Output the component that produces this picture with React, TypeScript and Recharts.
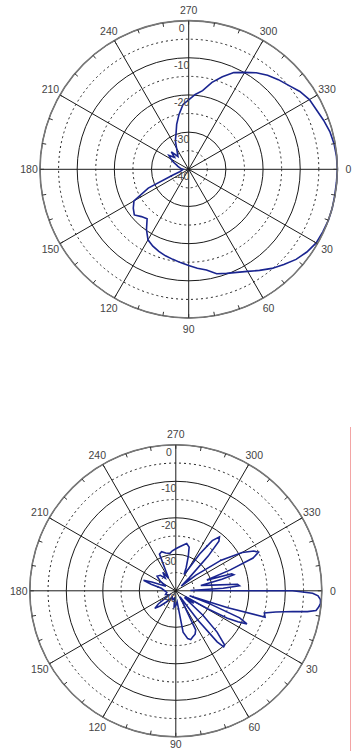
import { RadarChart, Radar, PolarGrid, PolarAngleAxis, PolarRadiusAxis } from 'recharts';

// upper pattern: angle (deg, clockwise from right) and gain (dB)
const topAngles = [
  0, 5, 10, 15, 20, 25, 30, 35, 40, 45, 50, 55, 60, 65, 70, 75, 80, 85, 90, 95, 100, 105, 110, 115,
  120, 125, 130, 135, 140, 145, 150, 155, 160, 165, 170, 175, 180, 185, 190, 195, 200, 205, 210, 215,
  220, 225, 230, 235, 240, 245, 250, 255, 260, 265, 270, 275, 280, 285, 290, 295, 300, 305, 310, 315,
  320, 325, 330, 335, 340, 345, 350, 355,
];
const topGain = [
  0, -0.1, -0.1, 0, 0, -0.2, -0.4, -1.2, -2.3, -3.8, -5.2, -6.8, -8.3, -9.4, -10.2, -10.9, -12.5, -13.3,
  -14.1, -14.8, -15.4, -15.9, -16.5, -17.2, -18.1, -20.2, -22.6, -22, -20.9, -21.8, -23, -28, -35.5, -37.5,
  -38, -38.3, -38.5, -38, -37.5, -37, -36.5, -35.5, -34.5, -33.5, -35, -33.4, -35.5, -34.7, -33.5, -31.5,
  -30, -27.5, -25, -22.5, -21.3, -19.8, -18.5, -15.8, -13.5, -11.3, -9.9, -8.3, -7, -5.9, -4.9, -3.5,
  -2.5, -2.1, -1.4, -0.7, -0.3, -0.1,
];

// lower pattern
const bottomAngles = [
  0, 1, 2, 3.5, 5, 6.5, 8, 9, 10, 12, 14, 16.5, 18, 19.5, 21, 23, 25, 26.5, 28, 29.5, 31, 35, 38, 42,
  45, 48, 49.5, 51, 53, 55, 60, 63, 66, 70, 73, 76, 80, 83, 90, 96, 100, 110, 120, 130, 136, 140, 143,
  148, 160, 170, 180, 190, 195, 198, 200, 205, 212, 218, 225, 230, 235, 240, 244, 246, 250, 255, 261,
  265, 270, 275, 280, 283, 287, 290, 294, 297, 300, 303, 306, 309, 311, 313, 316, 319, 322, 326, 330,
  333, 335, 337, 339, 341, 343, 344.5, 346, 348, 351, 354, 355.5, 357, 359,
];
const bottomGain = [
  -8, -2.5, -1, -0.3, -0.2, -0.6, -1.2, -3.5, -7.4, -12, -15, -14.5, -25, -36, -30, -21, -18.5, -21,
  -24, -30, -37, -34, -37, -30, -24, -20, -19.8, -22, -30, -38, -36, -28, -27, -26.5, -26, -26.5, -28.5,
  -37, -36, -35.5, -38, -37.5, -38, -36, -34, -32.5, -34, -38, -37, -37.5, -37, -36, -33, -30.7, -33,
  -37, -35, -33.5, -34, -35.5, -33.8, -36, -33, -29, -28.6, -29.3, -29.6, -29, -28.5, -27.9, -27.2,
  -26.7, -27.5, -30, -33, -35, -33, -28, -23, -21, -22, -27, -35, -38, -33, -25, -19, -16, -15, -17,
  -24, -31, -24, -23.5, -27, -33, -30, -23, -22.5, -27, -36,
];

const angleTicks = [0, 30, 60, 90, 120, 150, 180, 210, 240, 270, 300, 330];
const minorAngleTicks = [0, 10, 20, 30, 40, 50, 60, 70, 80, 90, 100, 110, 120, 130, 140, 150, 160, 170,
  180, 190, 200, 210, 220, 230, 240, 250, 260, 270, 280, 290, 300, 310, 320, 330, 340, 350];
const ringTicks = [-40, -30, -20, -10, 0];
const halfRingTicks = [-35, -25, -15, -5];
const dbFloor = -40;

const topData = topAngles.map((angle, i) => ({ angle, gain: topGain[i] }));
const bottomData = bottomAngles.map((angle, i) => ({ angle, gain: bottomGain[i] }));

const AngleTick = (props: any) => (
  <text x={props.x} y={Math.min(props.y, props.maxY)} textAnchor="middle" dominantBaseline="central"
    fontSize={10.5} fill="#444">
    {props.payload.value}
  </text>
);

const RingTick = (props: any) => (
  <text x={props.x - 7} y={props.y + 7} textAnchor="middle" dominantBaseline="central" fontSize={10.5} fill="#444">
    {props.payload.value}
  </text>
);

const PolarPlot = ({ data, width, height, cx, cy, r }: any) => (
  <RadarChart width={width} height={height} data={data} cx={cx} cy={cy} outerRadius={r}
    startAngle={0} endAngle={-360} margin={{ top: 0, right: 0, bottom: 0, left: 0 }}>
    <PolarGrid gridType="circle" stroke="#1a1a1a" strokeWidth={1} />
    <PolarGrid gridType="circle" radialLines={false} stroke="#222" strokeDasharray="2 3"
      polarRadius={halfRingTicks.map((v) => (r * (v - dbFloor)) / -dbFloor)} />
    <PolarAngleAxis dataKey="angle" type="number" domain={[0, 360]} ticks={angleTicks}
      axisLineType="circle" stroke="#777" strokeWidth={1.6} tickLine={false} tickSize={11}
      tick={<AngleTick maxY={height - 7} />} />
    <PolarAngleAxis angleAxisId="minor" dataKey="angle" type="number" domain={[0, 360]} ticks={minorAngleTicks}
      axisLine={false} orientation="inner" tickSize={4} stroke="#333" tick={false} />
    <PolarRadiusAxis angle={90} type="number" domain={[dbFloor, 0]} ticks={ringTicks}
      axisLine={false} tickLine={false} tick={<RingTick />} />
    <Radar dataKey="gain" stroke="#1a2590" strokeWidth={1.6} fill="none" fillOpacity={0}
      dot={false} isAnimationActive={false} />
  </RadarChart>
);

export default function App() {
  return (
    <div style={{ position: 'absolute', left: 0, top: 0, width: 358, height: 751, background: '#fff',
      fontFamily: "'Liberation Sans', Arial, sans-serif" }}>
      <div style={{ position: 'absolute', left: 0, top: 0 }}>
        <PolarPlot data={topData} width={358} height={345} cx={188.7} cy={169.3} r={148.7} />
      </div>
      <div style={{ position: 'absolute', left: 0, top: 376 }}>
        <PolarPlot data={bottomData} width={358} height={375} cx={175.8} cy={214.8} r={146} />
      </div>
      <div style={{ position: 'absolute', left: 350, top: 427, width: 1, height: 324, background: '#f3a5a5' }} />
    </div>
  );
}
